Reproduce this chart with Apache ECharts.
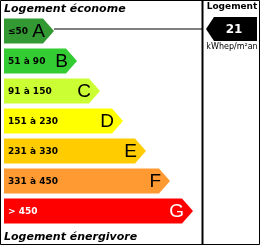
<!DOCTYPE html>
<html>
<head>
<meta charset="utf-8">
<script src="https://cdn.jsdelivr.net/npm/echarts@6/dist/echarts.min.js"></script>
<style>
  html, body { margin: 0; padding: 0; background: #fff; }
  #dpe { width: 261px; height: 246px; }
</style>
</head>
<body>
<div id="dpe"></div>
<script>
let classes = ['A', 'B', 'C', 'D', 'E', 'F', 'G']
let ranges = ['≤50', '51 à 90', '91 à 150', '151 à 230', '231 à 330', '331 à 450', '> 450']
let lengths = [50, 73, 96, 119, 142, 166, 189]
let colors = ['#339933', '#33cc33', '#ccff33', '#ffff00', '#ffcc00', '#ff9a33', '#ff0000']
let textColors = ['#000', '#000', '#000', '#000', '#000', '#000', '#fff']
let consumption = 21
let consumptionClass = 'A'

let chart = echarts.init(document.getElementById('dpe'))

function renderBar(params, api) {
    let i = api.value(0)
    let start = api.coord([0, i])
    let end = api.coord([api.value(1), i])
    let h = 25
    let d = 11
    let y0 = start[1] - h / 2
    let y1 = start[1] + h / 2
    return {
        type: 'group',
        children: [
            {
                type: 'polygon',
                shape: {
                    points: [[start[0], y0], [end[0] - d, y0], [end[0], start[1]], [end[0] - d, y1], [start[0], y1]]
                },
                style: {fill: colors[i]}
            },
            {
                type: 'text',
                style: {
                    text: ranges[i], x: start[0] + 4, y: start[1] + 1,
                    verticalAlign: 'middle', fill: textColors[i],
                    font: 'bold 9px "DejaVu Sans"'
                }
            },
            {
                type: 'text',
                style: {
                    text: classes[i], x: end[0] - 9, y: start[1] + 1,
                    align: 'right', verticalAlign: 'middle', fill: textColors[i],
                    font: '19px "Liberation Sans"'
                }
            }
        ]
    }
}

function renderMarker(params, api) {
    let i = api.value(0)
    let tip = api.coord([lengths[i], i])
    let y = tip[1] - 2
    return {
        type: 'group',
        children: [
            {
                type: 'line',
                shape: {x1: tip[0], y1: y, x2: 202, y2: y},
                style: {stroke: '#000', lineWidth: 1}
            },
            {
                type: 'polygon',
                shape: {points: [[206, y], [214, y - 12], [257, y - 12], [257, y + 12], [214, y + 12]]},
                style: {fill: '#000'}
            },
            {
                type: 'text',
                style: {
                    text: String(api.value(1)), x: 234, y: y + 1,
                    align: 'center', verticalAlign: 'middle', fill: '#fff',
                    font: 'bold 12px "DejaVu Sans"'
                }
            }
        ]
    }
}

let option = {
    animation: false,
    grid: {left: 4, top: 16, width: 200, height: 210},
    xAxis: {type: 'value', min: 0, max: 200, show: false},
    yAxis: {type: 'category', data: classes, inverse: true, show: false},
    graphic: [
        {type: 'rect', shape: {x: 0.5, y: 0.5, width: 259, height: 244}, style: {fill: 'none', stroke: '#000', lineWidth: 1}},
        {type: 'line', shape: {x1: 202.5, y1: 0, x2: 202.5, y2: 245}, style: {stroke: '#000', lineWidth: 2}},
        {type: 'text', x: 4, y: 9, style: {text: 'Logement économe', verticalAlign: 'middle', font: 'italic bold 11px "DejaVu Sans"', fill: '#000'}},
        {type: 'text', x: 4, y: 237, style: {text: 'Logement énergivore', verticalAlign: 'middle', font: 'italic bold 11px "DejaVu Sans"', fill: '#000'}},
        {type: 'text', x: 232, y: 7, style: {text: 'Logement', align: 'center', verticalAlign: 'middle', font: 'bold 9px "DejaVu Sans"', fill: '#000'}},
        {type: 'text', x: 232, y: 47, style: {text: 'kWhep/m²an', align: 'center', verticalAlign: 'middle', font: '8px "DejaVu Sans"', fill: '#000'}}
    ],
    series: [
        {
            type: 'custom',
            renderItem: renderBar,
            data: lengths.map((v, i) => [i, v])
        },
        {
            type: 'custom',
            renderItem: renderMarker,
            z: 3,
            data: [[classes.indexOf(consumptionClass), consumption]]
        }
    ]
}
chart.setOption(option)
</script>
</body>
</html>
